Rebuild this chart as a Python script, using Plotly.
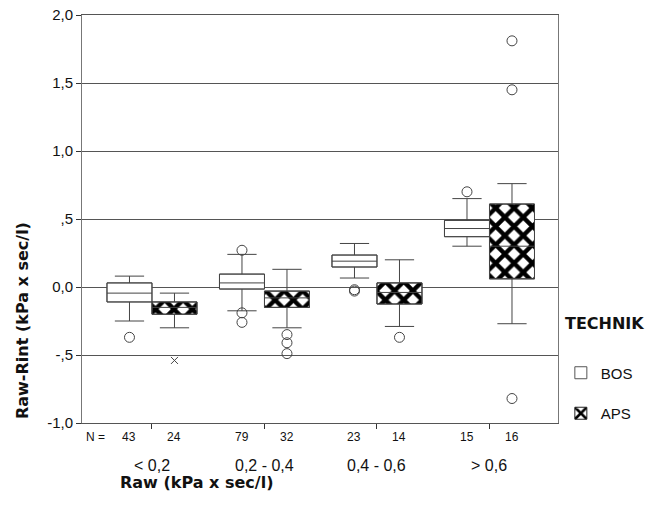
import plotly.graph_objects as go

categories = ["< 0,2", "0,2 - 0,4", "0,4 - 0,6", "> 0,6"]
n_bos = [43, 79, 23, 15]
n_aps = [24, 32, 14, 16]

bos_low = [-0.25, -0.175, 0.066, 0.30]
bos_q1 = [-0.11, -0.015, 0.147, 0.37]
bos_med = [-0.045, 0.03, 0.19, 0.43]
bos_q3 = [0.03, 0.095, 0.235, 0.49]
bos_high = [0.08, 0.24, 0.32, 0.65]
bos_outliers = [[-0.37], [0.27, -0.19, -0.26], [-0.02, -0.03], [0.70]]

aps_low = [-0.30, -0.30, -0.29, -0.27]
aps_q1 = [-0.20, -0.15, -0.125, 0.06]
aps_med = [-0.15, -0.08, -0.04, 0.30]
aps_q3 = [-0.11, -0.03, 0.03, 0.61]
aps_high = [-0.045, 0.13, 0.20, 0.76]
aps_outliers = [[], [-0.35, -0.41, -0.49], [-0.37], [1.81, 1.45, -0.82]]
aps_extremes = [[-0.54], [], [], []]

y_tickvals = [-1.0, -0.5, 0.0, 0.5, 1.0, 1.5, 2.0]
y_ticktext = ["-1,0", "-,5", "0,0", ",5", "1,0", "1,5", "2,0"]

FONT = "Liberation Sans, Arial, sans-serif"
BOLD = "DejaVu Sans, Arial, sans-serif"
off = 0.2
bw = 0.4
idx = list(range(len(categories)))
x_bos = [i - off for i in idx]
x_aps = [i + off for i in idx]

fig = go.Figure()

# box bodies (bars) - also provide legend
fig.add_trace(go.Bar(
    x=x_bos, y=[b - a for a, b in zip(bos_q1, bos_q3)], base=bos_q1, width=bw,
    name="BOS", legendgroup="bos",
    marker=dict(color="white", line=dict(color="#555", width=1)),
    hoverinfo="skip"))
fig.add_trace(go.Bar(
    x=x_aps, y=[b - a for a, b in zip(aps_q1, aps_q3)], base=aps_q1, width=bw,
    name="APS", legendgroup="aps",
    marker=dict(color="white", line=dict(color="#222", width=1),
                pattern=dict(shape="x", fgcolor="black", bgcolor="white",
                             fgopacity=1, size=13, solidity=0.55)),
    hoverinfo="skip"))

# whiskers and medians
for xs, lo, q1, md, q3, hi in [(x_bos, bos_low, bos_q1, bos_med, bos_q3, bos_high),
                               (x_aps, aps_low, aps_q1, aps_med, aps_q3, aps_high)]:
    fig.add_trace(go.Box(
        x=xs, lowerfence=lo, q1=q1, median=md, q3=q3, upperfence=hi,
        width=bw, whiskerwidth=0.65, fillcolor="rgba(0,0,0,0)",
        line=dict(color="#444", width=1), boxpoints=False, showlegend=False,
        hoverinfo="skip"))

# outliers
ox, oy = [], []
for i, vals in enumerate(bos_outliers):
    ox += [x_bos[i]] * len(vals)
    oy += vals
for i, vals in enumerate(aps_outliers):
    ox += [x_aps[i]] * len(vals)
    oy += vals
fig.add_trace(go.Scatter(
    x=ox, y=oy, mode="markers", showlegend=False,
    marker=dict(symbol="circle-open", size=10, color="#444", line=dict(width=1))))
ex, ey = [], []
for i, vals in enumerate(aps_extremes):
    ex += [x_aps[i]] * len(vals)
    ey += vals
fig.add_trace(go.Scatter(
    x=ex, y=ey, mode="markers", showlegend=False,
    marker=dict(symbol="x-thin-open", size=7, color="#444", line=dict(width=1))))

annotations = []
for i in idx:
    annotations.append(dict(x=x_bos[i], y=-0.034, xref="x", yref="paper", yanchor="middle",
                            text=str(n_bos[i]), showarrow=False,
                            font=dict(size=12, color="#111", family=FONT)))
    annotations.append(dict(x=x_aps[i], y=-0.034, xref="x", yref="paper", yanchor="middle",
                            text=str(n_aps[i]), showarrow=False,
                            font=dict(size=12, color="#111", family=FONT)))
    annotations.append(dict(x=i, y=-0.103, xref="x", yref="paper", yanchor="middle",
                            text=categories[i], showarrow=False,
                            font=dict(size=16, color="#111", family=FONT)))
annotations.append(dict(x=0.004, y=-0.034, xref="paper", yref="paper", xanchor="left",
                        yanchor="middle", text="N =", showarrow=False,
                        font=dict(size=12, color="#111", family=FONT)))
annotations.append(dict(x=-0.126, y=0.25, xref="paper", yref="paper",
                        xanchor="center", yanchor="middle",
                        text="<b>Raw-Rint (kPa x sec/l)</b>", textangle=-90,
                        showarrow=False, font=dict(size=16, color="#111", family=BOLD)))
annotations.append(dict(x=0.076, y=-0.147, xref="paper", yref="paper", xanchor="left",
                        yanchor="middle", text="<b>Raw (kPa x sec/l)</b>", showarrow=False,
                        font=dict(size=16, color="#111", family=BOLD)))
annotations.append(dict(x=1.01, y=0.245, xref="paper", yref="paper", xanchor="left",
                        yanchor="middle", text="<b>TECHNIK</b>", showarrow=False,
                        font=dict(size=16, color="#111", family=BOLD)))

fig.update_layout(
    width=661, height=520,
    margin=dict(l=82, r=103, t=15, b=97, autoexpand=False),
    paper_bgcolor="white", plot_bgcolor="white",
    barmode="overlay", boxmode="overlay",
    font=dict(family=FONT, color="#111"),
    showlegend=True,
    legend=dict(x=1.006, y=0.163, xanchor="left", yanchor="top",
                font=dict(size=15, family=FONT), tracegroupgap=18,
                bgcolor="rgba(0,0,0,0)"),
    annotations=annotations,
    xaxis=dict(range=[-0.622, 3.609], tickvals=idx, ticktext=["" for _ in idx],
               ticks="outside", ticklen=5, tickcolor="#333", showgrid=False,
               zeroline=False, showline=True, linecolor="#555", mirror=True),
    yaxis=dict(range=[-1.0, 2.0], tickvals=y_tickvals, ticktext=y_ticktext,
               ticks="outside", ticklen=5, tickcolor="#333",
               ticklabeloverflow="allow",
               showgrid=True, gridcolor="#555", gridwidth=1,
               zeroline=False, showline=True, linecolor="#777", mirror=True,
               tickfont=dict(size=15, family=FONT, color="#111")),
)

fig.write_html("out.html", config={"displayModeBar": False},
               post_script="document.body.style.margin='0';")
